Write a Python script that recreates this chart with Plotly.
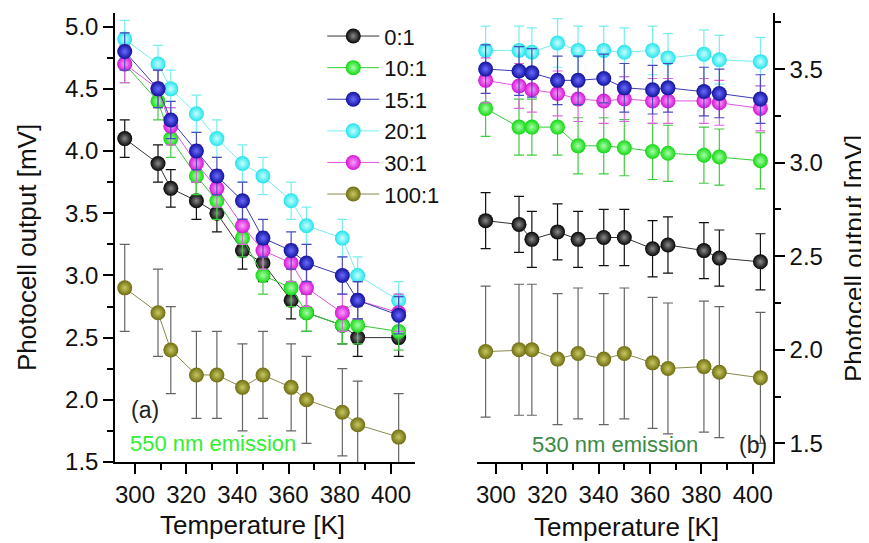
import plotly.graph_objects as go

# ---------------- data ----------------
temps = [296, 309, 314, 324, 332, 342, 350, 361, 367, 381, 387, 403]
series_names = ["0:1", "10:1", "15:1", "20:1", "30:1", "100:1"]

# panel (a): 550 nm emission
a_01 = [4.1, 3.9, 3.7, 3.6, 3.5, 3.2, 3.1, 2.8, 2.7, 2.6, 2.5, 2.5]
a_10 = [4.7, 4.4, 4.1, 3.8, 3.6, 3.3, 3.0, 2.9, 2.7, 2.6, 2.6, 2.55]
a_15 = [4.8, 4.5, 4.25, 4.0, 3.8, 3.6, 3.3, 3.2, 3.1, 3.0, 2.8, 2.68]
a_20 = [4.9, 4.7, 4.5, 4.3, 4.1, 3.9, 3.8, 3.6, 3.4, 3.3, 3.0, 2.8]
a_30 = [4.7, 4.5, 4.2, 3.9, 3.7, 3.4, 3.2, 3.1, 2.9, 2.7, 2.8, 2.7]
a_100 = [2.9, 2.7, 2.4, 2.2, 2.2, 2.1, 2.2, 2.1, 2.0, 1.9, 1.8, 1.7]
a_err = [0.15, 0.15, 0.15, 0.15, 0.15, 0.35]

# panel (b): 530 nm emission
b_01 = [2.69, 2.67, 2.59, 2.63, 2.59, 2.60, 2.60, 2.54, 2.56, 2.53, 2.49, 2.47]
b_10 = [3.29, 3.19, 3.19, 3.19, 3.09, 3.09, 3.08, 3.06, 3.05, 3.04, 3.03, 3.01]
b_15 = [3.50, 3.49, 3.48, 3.44, 3.44, 3.45, 3.40, 3.39, 3.40, 3.38, 3.37, 3.34]
b_20 = [3.60, 3.60, 3.59, 3.64, 3.60, 3.60, 3.59, 3.60, 3.56, 3.58, 3.55, 3.54]
b_30 = [3.44, 3.41, 3.39, 3.37, 3.34, 3.33, 3.34, 3.33, 3.33, 3.33, 3.32, 3.29]
b_100 = [1.99, 2.00, 2.00, 1.95, 1.98, 1.95, 1.98, 1.93, 1.90, 1.91, 1.88, 1.85]
b_err = [0.15, 0.15, 0.13, 0.13, 0.12, 0.35]

a_vals = [a_01, a_10, a_15, a_20, a_30, a_100]
b_vals = [b_01, b_10, b_15, b_20, b_30, b_100]

# ---------------- style ----------------
edge = ["#050505", "#12d812", "#12129e", "#22e4ec", "#d414d4", "#6e6e12"]
center = ["#8a8a8a", "#a8ffa8", "#6a6aff", "#c8ffff", "#ffa0ff", "#c8c860"]
linec = ["#333333", "#33cc33", "#3a3ab0", "#77eeee", "#dd55dd", "#8a8a50"]
errc = ["#111111", "#40cc40", "#4a4ac0", "#77eeee", "#dd66dd", "#666666"]
draw_order = [3, 0, 1, 4, 2, 5]
FONT = "Liberation Sans, Arial, sans-serif"

fig = go.Figure()
for panel, (vals, errs, xa, ya) in enumerate([(a_vals, a_err, "x", "y"), (b_vals, b_err, "x2", "y2")]):
    for i in draw_order:
        fig.add_trace(go.Scatter(
            x=temps, y=vals[i], xaxis=xa, yaxis=ya,
            mode="lines+markers", name=series_names[i],
            legendrank=i + 1, showlegend=(panel == 0),
            line=dict(color=linec[i], width=1),
            marker=dict(size=15, color=edge[i], line=dict(width=0),
                        gradient=dict(type="radial", color=center[i])),
            error_y=dict(type="constant", value=errs[i], color=errc[i],
                         thickness=1.2, width=5),
        ))

axis_common = dict(showline=True, linecolor="black", linewidth=1.5, mirror=False,
                   ticks="outside", ticklen=10, tickwidth=1.5, tickcolor="black",
                   showgrid=False, zeroline=False,
                   tickfont=dict(family=FONT, size=24, color="#111"))

# the page body adds an 8px offset, so the figure is sized to fit the window
fig.update_layout(
    width=861, height=535, plot_bgcolor="white", paper_bgcolor="white",
    margin=dict(l=107, r=96, t=5, b=81),
    font=dict(family=FONT, color="#111"),
    xaxis=dict(domain=[0, 0.456], range=[292.2, 409.4], dtick=20, tick0=300, anchor="y",
               minor=dict(dtick=10, ticklen=6, ticks="outside", tickcolor="black"), **axis_common),
    yaxis=dict(domain=[0, 1], range=[1.5, 5.11], dtick=0.5, tick0=1.5, anchor="x",
               tickformat=".1f",
               minor=dict(dtick=0.25, ticklen=6, ticks="outside", tickcolor="black"), **axis_common),
    xaxis2=dict(domain=[0.550, 1], range=[292.6, 407.9], dtick=20, tick0=300, anchor="y2",
                minor=dict(dtick=10, ticklen=6, ticks="outside", tickcolor="black"), **axis_common),
    yaxis2=dict(domain=[0, 1], range=[1.4, 3.8], dtick=0.5, tick0=1.5, anchor="x2", side="right",
                tickformat=".1f",
                minor=dict(dtick=0.25, ticklen=6, ticks="outside", tickcolor="black"), **axis_common),
    legend=dict(x=0.315, y=0.995, xanchor="left", yanchor="top", bgcolor="rgba(0,0,0,0)",
                font=dict(family=FONT, size=22, color="#111"), tracegroupgap=0,
                itemwidth=52),
    showlegend=True,
)

ann = [
    dict(text="(a)", x=0.0456, y=0.1158, xanchor="center", yanchor="middle",
         font=dict(size=23, color="#222")),
    dict(text="550 nm emission", x=0.0198, y=0.0423, xanchor="left", yanchor="middle",
         font=dict(size=22, color="#33ee33")),
    dict(text="530 nm emission", x=0.6307, y=0.0379, xanchor="left", yanchor="middle",
         font=dict(size=22, color="#3a8a45")),
    dict(text="(b)", x=0.9696, y=0.0379, xanchor="center", yanchor="middle",
         font=dict(size=23, color="#222")),
    dict(text="Photocell output [mV]", x=-0.1337, y=0.4766, textangle=-90,
         xanchor="center", yanchor="middle", font=dict(size=26, color="#111")),
    dict(text="Photocell output [mV]", x=1.1231, y=0.4543, textangle=-90,
         xanchor="center", yanchor="middle", font=dict(size=26, color="#111")),
    dict(text="Temperature [K]", x=0.2097, y=-0.1403, xanchor="center", yanchor="middle",
         font=dict(size=26, color="#111")),
    dict(text="Temperature [K]", x=0.7766, y=-0.1448, xanchor="center", yanchor="middle",
         font=dict(size=26, color="#111")),
]
for a in ann:
    a.update(xref="paper", yref="paper", showarrow=False)
    a["font"]["family"] = FONT
    fig.add_annotation(**a)

fig.write_html("out.html")
